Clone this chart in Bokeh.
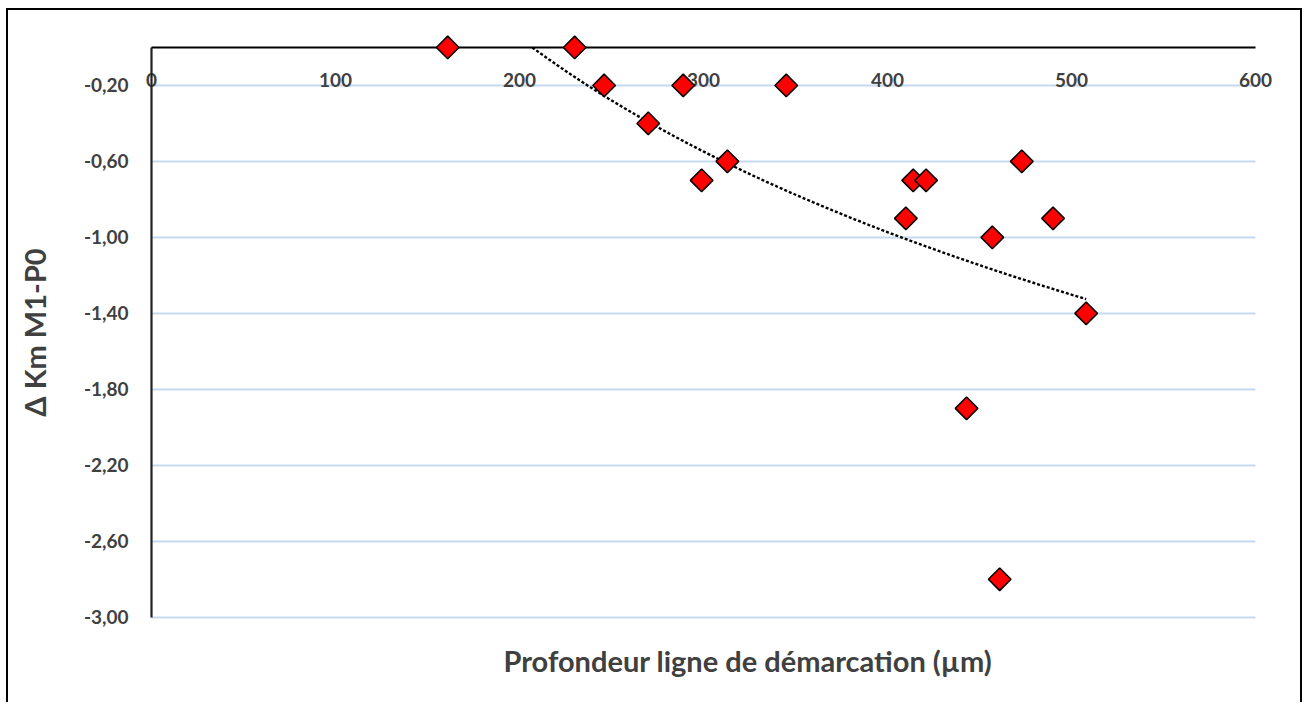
import numpy as np
from bokeh.plotting import figure
from bokeh.models import Range1d, FixedTicker, Title, ColumnDataSource
from bokeh.embed import file_html
from bokeh.resources import INLINE

# ---- data ----
depth_um = [161, 230, 246, 270, 289, 299, 313, 345, 410, 414, 421, 443, 457, 461, 473, 490, 508]
delta_km = [0.0, 0.0, -0.2, -0.4, -0.2, -0.7, -0.6, -0.2, -0.9, -0.7, -0.7, -1.9, -1.0, -2.8, -0.6, -0.9, -1.4]

x_ticks = [0, 100, 200, 300, 400, 500, 600]
y_ticks = [-3.0, -2.6, -2.2, -1.8, -1.4, -1.0, -0.6, -0.2]
y_tick_labels = ["-3,00", "-2,60", "-2,20", "-1,80", "-1,40", "-1,00", "-0,60", "-0,20"]

x_title = "Profondeur ligne de démarcation (µm)"
y_title = "Δ Km M1-P0"

# ---- logarithmic trend line (least squares on ln x), shown where y <= 0 ----
a, b = np.polyfit(np.log(depth_um), delta_km, 1)
x_start = max(min(depth_um), float(np.exp(-b / a)))
trend_x = np.linspace(x_start, max(depth_um), 200)
trend_y = a * np.log(trend_x) + b

FONT = "Lato"
TXT = "#404040"

p = figure(width=1296, height=694,
           x_range=Range1d(-75, 612), y_range=Range1d(-3.08, 0.147),
           output_backend="svg", toolbar_location=None,
           min_border_left=5, min_border_right=27,
           min_border_top=9, min_border_bottom=72)
p.styles = {"margin-left": "6px", "margin-top": "8px",
            "border-top": "2px solid black",
            "border-left": "2px solid black",
            "border-right": "2px solid black"}
p.outline_line_color = None
p.background_fill_color = "white"
p.border_fill_color = "white"

# x axis: line at y = 0 (top), labels below it
xa = p.xaxis[0]
xa.fixed_location = 0
xa.bounds = (0, 600)
xa.ticker = FixedTicker(ticks=x_ticks)
xa.major_tick_line_color = None
xa.minor_tick_line_color = None
xa.axis_line_color = "black"
xa.axis_line_width = 2.2
xa.major_label_standoff = 20
xa.major_label_text_font = FONT
xa.major_label_text_font_style = "bold"
xa.major_label_text_font_size = "19px"
xa.major_label_text_color = TXT
p.xgrid.visible = False

# y axis: line at x = 0
ya = p.yaxis[0]
ya.fixed_location = 0
ya.bounds = (-3.0, 0)
ya.ticker = FixedTicker(ticks=y_ticks)
ya.major_label_overrides = {t: l for t, l in zip(y_ticks, y_tick_labels)}
ya.major_tick_line_color = None
ya.minor_tick_line_color = None
ya.axis_line_color = "#222222"
ya.axis_line_width = 2.2
ya.major_label_standoff = 17
ya.major_label_text_font = FONT
ya.major_label_text_font_style = "bold"
ya.major_label_text_font_size = "19px"
ya.major_label_text_color = TXT
ya.axis_label = y_title
ya.axis_label_text_font = FONT
ya.axis_label_text_font_style = "bold"
ya.axis_label_text_font_size = "29px"
ya.axis_label_text_color = TXT
ya.axis_label_standoff = 29

p.ygrid.ticker = FixedTicker(ticks=y_ticks)
p.ygrid.cross_bounds = (0, 600)
p.ygrid.grid_line_color = "#c6d9f1"
p.ygrid.grid_line_width = 2

# x axis title
t = Title(text=x_title, align="left", offset=490, standoff=16,
          text_font=FONT, text_font_style="bold", text_font_size="29px",
          text_color=TXT)
p.add_layout(t, "below")

# trend line
p.line(trend_x, trend_y, line_color="black", line_width=2.4, line_dash="3 2")

# points
src = ColumnDataSource(dict(x=depth_um, y=delta_km))
r = p.scatter("x", "y", source=src, marker="square", angle=np.pi / 4, size=16,
              fill_color="#ff0000", line_color="black", line_width=1.5)
r.level = "overlay"

open("out.html", "w").write(file_html(p, INLINE))
